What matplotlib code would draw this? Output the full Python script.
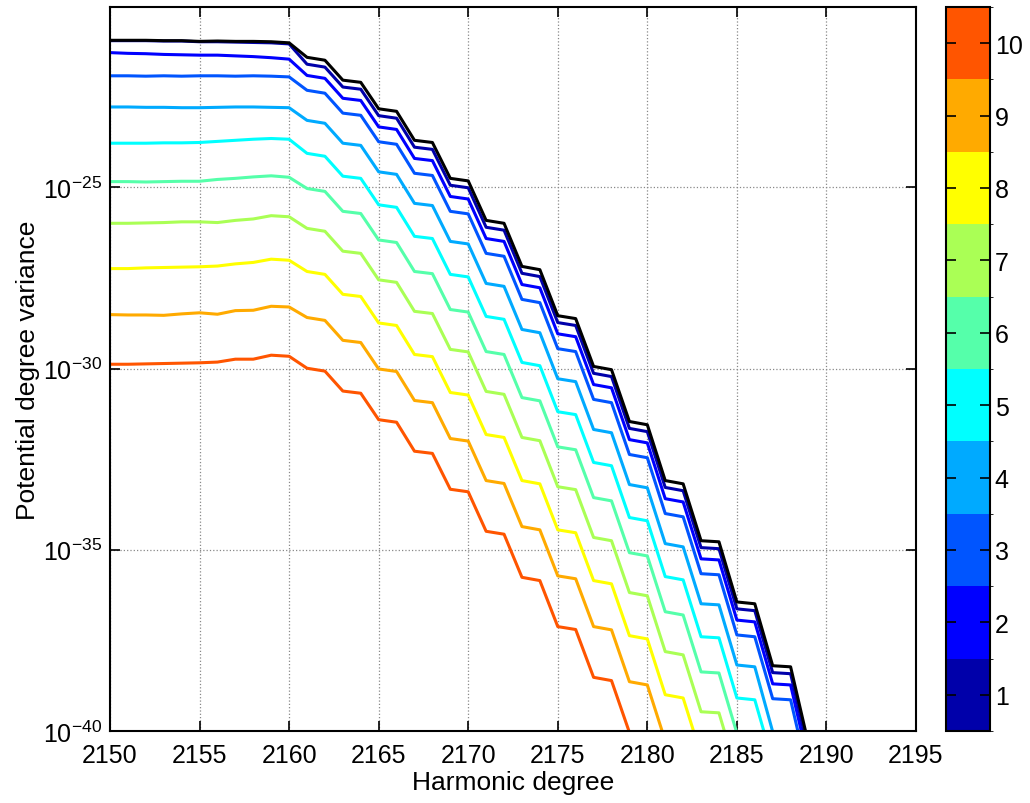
import matplotlib
matplotlib.use('Agg')
import matplotlib.pyplot as plt
import numpy as np
from matplotlib.colors import ListedColormap, BoundaryNorm
from matplotlib.cm import ScalarMappable

plt.rcParams['font.family'] = ['Liberation Sans', 'DejaVu Sans']
plt.rcParams['mathtext.fontset'] = 'custom'
plt.rcParams['mathtext.rm'] = 'Liberation Sans'
plt.rcParams['mathtext.it'] = 'Liberation Sans'

# harmonic degrees
degrees = np.arange(2150, 2190)

# log10 of potential degree variance
black = [-20.94, -20.94, -20.94, -20.95, -20.95, -20.97, -20.96, -20.97, -20.97, -20.98,
         -21.01, -21.41, -21.49, -22.04, -22.10, -22.83, -22.90, -23.70, -23.76, -24.75,
         -24.82, -25.91, -25.99, -27.18, -27.27, -28.54, -28.62, -29.94, -30.03, -31.46,
         -31.55, -33.09, -33.18, -34.75, -34.78, -36.44, -36.49, -38.20, -38.23, -40.36]
line1 = [-20.95, -20.95, -20.95, -20.96, -20.96, -20.98, -20.98, -20.99, -21.00, -21.01,
         -21.04, -21.60, -21.68, -22.23, -22.29, -23.02, -23.09, -23.89, -23.95, -24.94,
         -25.01, -26.10, -26.18, -27.37, -27.46, -28.73, -28.81, -30.13, -30.22, -31.65,
         -31.74, -33.28, -33.37, -34.94, -34.97, -36.63, -36.68, -38.39, -38.42, -40.55]
line2 = [-21.28, -21.30, -21.31, -21.33, -21.34, -21.35, -21.35, -21.37, -21.39, -21.42,
         -21.46, -21.91, -21.99, -22.54, -22.60, -23.33, -23.40, -24.20, -24.26, -25.25,
         -25.32, -26.41, -26.49, -27.68, -27.77, -29.04, -29.12, -30.44, -30.53, -31.96,
         -32.05, -33.59, -33.68, -35.25, -35.28, -36.94, -36.99, -38.70, -38.73, -40.86]
line3 = [-21.92, -21.92, -21.93, -21.92, -21.93, -21.92, -21.92, -21.93, -21.92, -21.93,
         -21.95, -22.32, -22.40, -22.95, -23.01, -23.74, -23.81, -24.61, -24.67, -25.66,
         -25.73, -26.82, -26.90, -28.09, -28.18, -29.45, -29.53, -30.85, -30.94, -32.37,
         -32.46, -34.00, -34.09, -35.66, -35.69, -37.35, -37.40, -39.11, -39.14, -41.27]
line4 = [-22.78, -22.78, -22.79, -22.79, -22.80, -22.80, -22.79, -22.78, -22.78, -22.79,
         -22.80, -23.15, -23.23, -23.78, -23.84, -24.57, -24.64, -25.44, -25.50, -26.49,
         -26.56, -27.65, -27.73, -28.92, -29.01, -30.28, -30.36, -31.68, -31.77, -33.20,
         -33.29, -34.83, -34.92, -36.49, -36.52, -38.18, -38.23, -40.02, -40.05, -42.10]
line5 = [-23.78, -23.78, -23.78, -23.77, -23.77, -23.76, -23.73, -23.70, -23.67, -23.65,
         -23.67, -24.06, -24.14, -24.69, -24.75, -25.48, -25.55, -26.35, -26.41, -27.40,
         -27.47, -28.56, -28.64, -29.83, -29.92, -31.19, -31.27, -32.59, -32.68, -34.11,
         -34.20, -35.74, -35.83, -37.40, -37.43, -39.09, -39.14, -40.85, -40.88, -43.01]
line6 = [-24.84, -24.84, -24.85, -24.84, -24.83, -24.83, -24.78, -24.75, -24.71, -24.68,
         -24.72, -25.03, -25.11, -25.66, -25.72, -26.45, -26.52, -27.32, -27.38, -28.37,
         -28.44, -29.53, -29.61, -30.80, -30.89, -32.16, -32.24, -33.56, -33.65, -35.08,
         -35.17, -36.71, -36.80, -38.37, -38.40, -40.06, -40.11, -41.82, -41.85, -43.98]
line7 = [-25.99, -25.99, -25.98, -25.97, -25.95, -25.95, -25.97, -25.91, -25.87, -25.78,
         -25.81, -26.13, -26.21, -26.76, -26.82, -27.55, -27.62, -28.42, -28.48, -29.47,
         -29.54, -30.63, -30.71, -31.90, -31.99, -33.26, -33.34, -34.66, -34.75, -36.18,
         -36.27, -37.81, -37.90, -39.47, -39.50, -41.16, -41.21, -42.92, -42.95, -45.08]
line8 = [-27.24, -27.24, -27.22, -27.21, -27.20, -27.19, -27.17, -27.11, -27.07, -26.98,
         -27.01, -27.32, -27.40, -27.95, -28.01, -28.74, -28.81, -29.61, -29.67, -30.66,
         -30.73, -31.82, -31.90, -33.09, -33.18, -34.45, -34.53, -35.85, -35.94, -37.37,
         -37.46, -39.00, -39.09, -40.66, -40.69, -42.35, -42.40, -44.11, -44.14, -46.27]
line9 = [-28.51, -28.52, -28.52, -28.53, -28.49, -28.46, -28.50, -28.40, -28.39, -28.28,
         -28.30, -28.59, -28.67, -29.22, -29.28, -30.01, -30.08, -30.88, -30.94, -31.93,
         -32.00, -33.09, -33.17, -34.36, -34.45, -35.72, -35.80, -37.12, -37.21, -38.64,
         -38.73, -40.27, -40.36, -41.93, -41.96, -43.62, -43.67, -45.38, -45.41, -47.54]
line10 = [-29.88, -29.88, -29.87, -29.86, -29.85, -29.84, -29.82, -29.74, -29.74, -29.63,
          -29.66, -29.99, -30.07, -30.62, -30.68, -31.41, -31.48, -32.28, -32.34, -33.33,
          -33.40, -34.49, -34.57, -35.76, -35.85, -37.12, -37.20, -38.52, -38.61, -40.04,
          -40.13, -41.67, -41.76, -43.33, -43.36, -45.02, -45.07, -46.78, -46.81, -48.94]

series = [line1, line2, line3, line4, line5, line6, line7, line8, line9, line10]
levels = list(range(1, 11))

# MATLAB jet(10)
jet10 = [(0, 0, 0.6667), (0, 0, 1), (0, 0.3333, 1), (0, 0.6667, 1), (0, 1, 1),
         (0.3333, 1, 0.6667), (0.6667, 1, 0.3333), (1, 1, 0), (1, 0.6667, 0), (1, 0.3333, 0)]

fig = plt.figure(figsize=(10.3, 8.04), dpi=100)
ax = fig.add_axes([0.1068, 0.0896, 0.7825, 0.9005])

for vals, col in zip(series[::-1], jet10[::-1]):
    ax.semilogy(degrees, 10.0 ** np.array(vals), color=col, lw=2.2)
ax.semilogy(degrees, 10.0 ** np.array(black), color='black', lw=2.2)

ax.set_xlim(2150, 2195)
ax.set_ylim(1e-40, 10 ** -20.02)
ax.set_xticks(np.arange(2150, 2196, 5))
ax.set_yticks([1e-40, 1e-35, 1e-30, 1e-25])
ax.set_yticklabels([r'$10^{-40}$', r'$10^{-35}$', r'$10^{-30}$', r'$10^{-25}$'])
ax.yaxis.set_minor_locator(matplotlib.ticker.NullLocator())
ax.grid(True, which='major', color='#888888', linestyle=':', linewidth=0.9)
ax.tick_params(direction='in', top=True, right=True, length=7, width=1.2, labelsize=18)
ax.tick_params(axis='x', pad=9)
ax.tick_params(axis='y', pad=6)
for s in ax.spines.values():
    s.set_linewidth(1.5)
ax.set_xlabel('Harmonic degree', fontsize=19, labelpad=2)
ax.set_ylabel('Potential degree variance', fontsize=19, labelpad=2)

cax = fig.add_axes([0.9184, 0.0896, 0.0427, 0.9005])
cmap = ListedColormap(jet10)
norm = BoundaryNorm(np.arange(0.5, 11, 1), cmap.N)
cb = fig.colorbar(ScalarMappable(norm=norm, cmap=cmap), cax=cax, ticks=levels)
cb.outline.set_linewidth(1.5)
cax.tick_params(direction='in', left=True, right=True, length=7, width=1.2, labelsize=18)

fig.savefig('out.png', dpi=100)
